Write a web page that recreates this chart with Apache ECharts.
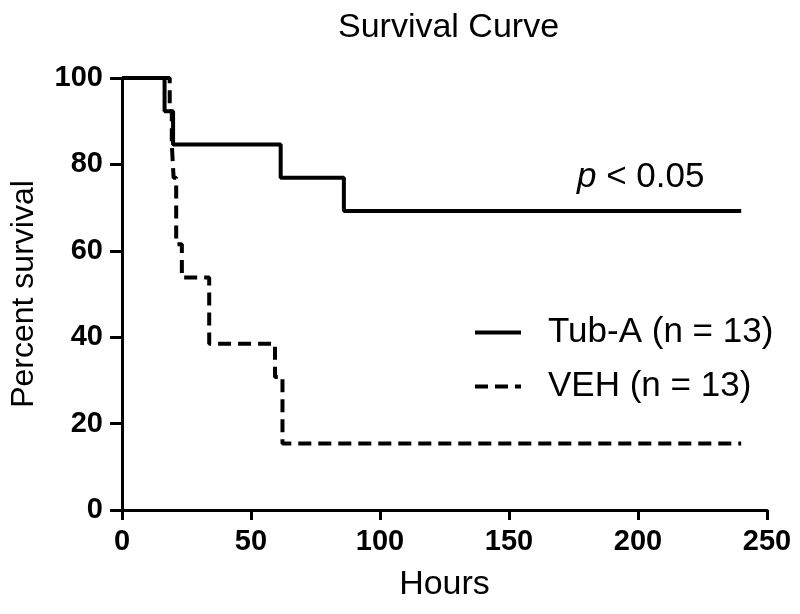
<!DOCTYPE html>
<html>
<head>
<meta charset="utf-8">
<script src="https://cdn.jsdelivr.net/npm/echarts@6/dist/echarts.min.js"></script>
<style>html,body{margin:0;padding:0;background:#fff}#c{width:800px;height:614px}</style>
</head>
<body>
<div id="c"></div>
<script>
// Kaplan-Meier steps: [hours, percent survival]
const tubAHours   = [0, 16.5, 19.8, 61.5, 86, 240];
const tubAPercent = [100, 92.3, 84.6, 76.9, 69.2, 69.2];
const vehHours    = [0, 18.5, 19.3, 20.0, 21.0, 23.2, 33.8, 59.3, 62.2, 240];
const vehPercent  = [100, 92.3, 84.6, 76.9, 61.5, 53.8, 38.5, 30.8, 15.4, 15.4];
const seriesNames = ['Tub-A (n = 13)', 'VEH (n = 13)'];
const xTicks = [0, 50, 100, 150, 200, 250];
const yTicks = [0, 20, 40, 60, 80, 100];

const FONT = '"Liberation Sans", Arial, Helvetica, sans-serif';
const zip = (a, b) => a.map((v, i) => [v, b[i]]);

const chart = echarts.init(document.getElementById('c'), null, {renderer: 'canvas'});
chart.setOption({
  animation: false,
  backgroundColor: '#fff',
  title: {
    text: 'Survival Curve',
    left: 333, top: 6,
    textStyle: {fontFamily: FONT, fontSize: 34, fontWeight: 'normal', color: '#000'}
  },
  grid: {left: 121, right: 33, top: 78, bottom: 104},
  legend: {
    data: seriesNames,
    orient: 'vertical',
    left: 468, top: 310,
    itemWidth: 46, itemHeight: 20, itemGap: 19,
    itemStyle: {opacity: 0},
    lineStyle: {width: 4},
    textStyle: {fontFamily: FONT, fontSize: 35, color: '#000', padding: [0, 0, 0, 22]}
  },
  xAxis: {
    type: 'value', min: xTicks[0], max: xTicks[xTicks.length - 1], interval: 50,
    name: 'Hours', nameLocation: 'middle', nameGap: 58,
    nameTextStyle: {fontFamily: FONT, fontSize: 34, color: '#000'},
    axisLine: {show: true, lineStyle: {color: '#000', width: 3}},
    axisTick: {show: true, length: 10, lineStyle: {color: '#000', width: 3}},
    axisLabel: {fontFamily: FONT, fontSize: 29, fontWeight: 'bold', color: '#000', margin: 17},
    splitLine: {show: false}
  },
  yAxis: {
    type: 'value', min: yTicks[0], max: yTicks[yTicks.length - 1], interval: 20,
    name: 'Percent survival', nameLocation: 'middle', nameGap: 82,
    nameTextStyle: {fontFamily: FONT, fontSize: 32, color: '#000'},
    axisLine: {show: true, lineStyle: {color: '#000', width: 3}},
    axisTick: {show: true, length: 12, lineStyle: {color: '#000', width: 3}},
    axisLabel: {fontFamily: FONT, fontSize: 29, fontWeight: 'bold', color: '#000', margin: 19},
    splitLine: {show: false}
  },
  series: [
    {
      name: seriesNames[0], type: 'line', step: 'end', symbol: 'none',
      data: zip(tubAHours, tubAPercent),
      lineStyle: {color: '#000', width: 4, type: 'solid'},
      itemStyle: {color: '#000'}
    },
    {
      name: seriesNames[1], type: 'line', step: 'end', symbol: 'none',
      data: zip(vehHours, vehPercent),
      lineStyle: {color: '#000', width: 4, type: [13, 7]},
      itemStyle: {color: '#000'}
    }
  ],
  graphic: [{
    type: 'text', left: 577, top: 160,
    style: {
      text: '{i|p} < 0.05',
      font: '35px ' + FONT,
      fill: '#000',
      rich: {i: {fontStyle: 'italic', fontFamily: FONT, fontSize: 35, fill: '#000'}}
    }
  }]
});
</script>
</body>
</html>
